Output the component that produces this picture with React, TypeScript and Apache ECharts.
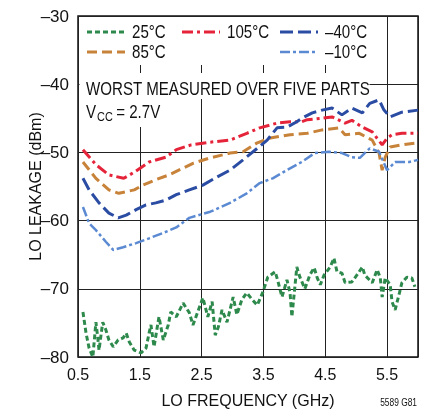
import React, { useEffect, useRef } from "react";
import * as echarts from "echarts";

const FONT = "'Liberation Sans', Arial, sans-serif";
const SX = 0.84;

const xTicks = [0.5, 1.5, 2.5, 3.5, 4.5, 5.5];
const yTicks = [-80, -70, -60, -50, -40, -30];
const legendNames = ["25°C", "85°C", "105°C", "–40°C", "–10°C"];

const s105: [number, number][] = [
  [0.58, -49.6], [0.79, -51.8], [1.0, -53.3], [1.24, -53.8], [1.41, -52.9], [1.65, -51.4],
  [1.92, -50.7], [2.09, -49.6], [2.33, -48.9], [2.64, -48.5], [2.96, -48.2], [3.23, -47.2],
  [3.44, -46.4], [3.72, -45.7], [3.93, -45.5], [4.12, -45.5], [4.21, -45.2], [4.45, -45.0],
  [4.61, -44.8], [4.82, -45.7], [4.93, -45.3], [5.1, -46.3], [5.26, -47.0], [5.42, -48.9],
  [5.5, -47.9], [5.58, -47.4], [5.74, -47.2], [6.0, -47.2],
];

const s85: [number, number][] = [
  [0.58, -51.4], [0.79, -53.8], [1.0, -55.5], [1.16, -56.0], [1.41, -55.5], [1.55, -54.8],
  [1.76, -54.0], [1.97, -53.3], [2.2, -52.3], [2.36, -51.6], [2.64, -50.8], [2.96, -50.1],
  [3.17, -49.9], [3.4, -48.6], [3.61, -47.9], [3.93, -47.4], [4.21, -47.2], [4.45, -46.7],
  [4.72, -46.4], [4.82, -47.4], [5.05, -47.2], [5.26, -48.2], [5.37, -50.1], [5.42, -52.6],
  [5.47, -50.7], [5.55, -49.2], [5.74, -48.9], [6.0, -48.6],
];

const sM40: [number, number][] = [
  [0.58, -53.8], [0.68, -55.5], [0.84, -57.4], [1.0, -58.9], [1.15, -59.6], [1.28, -59.2],
  [1.44, -58.4], [1.6, -57.7], [1.76, -57.4], [1.92, -57.0], [2.09, -56.2], [2.3, -55.5],
  [2.52, -54.8], [2.75, -53.6], [2.96, -52.6], [3.17, -51.1], [3.4, -49.4], [3.56, -48.2],
  [3.72, -46.4], [3.88, -46.3], [4.04, -45.5], [4.12, -45.0], [4.29, -44.2], [4.45, -43.8],
  [4.61, -43.5], [4.77, -44.5], [4.93, -43.5], [5.1, -44.2], [5.22, -42.8], [5.37, -42.3],
  [5.45, -43.8], [5.55, -44.8], [5.74, -44.1], [6.0, -43.8],
];

const sM10: [number, number][] = [
  [0.58, -58.0], [0.68, -60.4], [0.79, -61.4], [0.95, -63.1], [1.07, -64.3], [1.23, -63.9],
  [1.44, -63.3], [1.65, -62.6], [1.88, -61.8], [2.09, -61.0], [2.3, -59.6], [2.64, -58.7],
  [2.96, -57.4], [3.23, -56.0], [3.44, -54.5], [3.65, -53.8], [3.88, -52.6], [4.12, -51.4],
  [4.33, -50.1], [4.56, -49.9], [4.77, -50.1], [4.93, -50.7], [5.06, -50.8], [5.22, -49.4],
  [5.37, -49.9], [5.5, -52.6], [5.63, -51.4], [5.86, -51.4], [6.0, -51.1],
];

const s25: [number, number][] = [
  [0.58, -73.4], [0.63, -76.5], [0.68, -78.7], [0.74, -80.0], [0.79, -74.9], [0.82, -77.2],
  [0.84, -79.0], [0.9, -74.9], [0.95, -76.0], [1.0, -77.5], [1.07, -78.5], [1.15, -77.5],
  [1.23, -77.2], [1.28, -76.5], [1.33, -77.8], [1.41, -79.0], [1.52, -79.4], [1.6, -78.7],
  [1.65, -76.5], [1.68, -75.3], [1.73, -78.5], [1.81, -74.1], [1.88, -77.5], [1.96, -75.3],
  [2.0, -73.4], [2.09, -74.1], [2.2, -72.1], [2.3, -73.5], [2.36, -75.3], [2.52, -71.3],
  [2.6, -74.1], [2.67, -71.9], [2.72, -76.8], [2.77, -75.6], [2.83, -73.1], [2.91, -74.9],
  [3.01, -71.2], [3.07, -73.8], [3.15, -71.6], [3.23, -70.6], [3.32, -71.6], [3.4, -72.4],
  [3.49, -70.5], [3.57, -68.3], [3.69, -67.5], [3.74, -69.1], [3.8, -71.2], [3.88, -68.7],
  [3.93, -70.6], [3.96, -74.1], [4.04, -66.8], [4.09, -68.3], [4.17, -70.0], [4.25, -68.0],
  [4.32, -66.9], [4.37, -68.4], [4.42, -69.4], [4.48, -68.0], [4.58, -66.8], [4.64, -65.5],
  [4.69, -67.5], [4.77, -67.7], [4.82, -69.1], [4.93, -69.0], [5.01, -68.0], [5.1, -66.8],
  [5.14, -68.0], [5.26, -69.1], [5.34, -67.2], [5.39, -68.4], [5.42, -71.2], [5.47, -68.4],
  [5.55, -69.4], [5.58, -71.9], [5.63, -73.1], [5.7, -70.6], [5.74, -69.1], [5.82, -68.3],
  [5.9, -68.4], [5.95, -69.7],
];

const C25 = "#2e8a4c";
const C85 = "#c8833a";
const C105 = "#e5243a";
const CM40 = "#2b4ca3";
const CM10 = "#5b8ad2";

const styles = [
  { name: legendNames[0], data: s25, color: C25, dash: [5, 3], width: 3 },
  { name: legendNames[1], data: s85, color: C85, dash: [10, 5], width: 3 },
  { name: legendNames[2], data: s105, color: C105, dash: [11, 4, 3, 4], width: 3 },
  { name: legendNames[3], data: sM40, color: CM40, dash: [13, 5], width: 3 },
  { name: legendNames[4], data: sM10, color: CM10, dash: [10, 3, 3, 3], width: 2.5 },
];

function txt(x: number, y: number, text: string, size: number, extra: any = {}) {
  return {
    type: "text", z: 5, x, y, scaleX: SX,
    style: { text, font: `${size}px ${FONT}`, fill: "#111", verticalAlign: "middle", ...extra },
  };
}

function legendItem(x: number, y: number, s: any) {
  return [
    {
      type: "line", z: 5,
      shape: { x1: x, y1: y, x2: x + 38, y2: y },
      style: { stroke: s.color, lineWidth: s.width, lineDash: s.dash },
    },
    txt(x + 45, y, s.name, 18),
  ];
}

export default function App() {
  const ref = useRef<HTMLDivElement>(null);
  useEffect(() => {
    if (!ref.current) return;
    const chart = echarts.init(ref.current, undefined, { renderer: "svg" });
    const minus = (v: number) => (v < 0 ? "–" + Math.abs(v) : String(v));
    chart.setOption({
      animation: false,
      grid: {
        left: 78, right: 9, top: 16, bottom: 52, show: true, borderColor: "#111", borderWidth: 1.5,
        backgroundColor: "#fff", containLabel: false, outerBoundsMode: "none",
      },
      xAxis: {
        type: "value", min: 0.5, max: 6, interval: 1,
        name: "LO FREQUENCY (GHz)", nameLocation: "middle", nameGap: 35, nameMoveOverlap: false,
        nameTextStyle: { fontFamily: FONT, fontSize: 16, color: "#111" },
        axisLine: { show: false }, axisTick: { show: false },
        axisLabel: {
          fontFamily: FONT, fontSize: 16, color: "#111", margin: 9,
          formatter: (v: number) => (xTicks.some((t) => Math.abs(t - v) < 1e-9) ? v.toFixed(1) : ""),
        },
        splitLine: { show: true, lineStyle: { color: "#222", width: 1 } },
      },
      yAxis: {
        type: "value", min: yTicks[0], max: yTicks[yTicks.length - 1], interval: 10,
        name: "LO LEAKAGE (dBm)", nameLocation: "middle", nameGap: 35, nameMoveOverlap: false,
        nameTextStyle: { fontFamily: FONT, fontSize: 16, color: "#111" },
        axisLine: { show: false }, axisTick: { show: false },
        axisLabel: { fontFamily: FONT, fontSize: 17, color: "#111", margin: 9, formatter: minus },
        splitLine: { show: true, lineStyle: { color: "#222", width: 1 } },
      },
      series: styles.map((s) => ({
        type: "line", name: s.name, data: s.data, showSymbol: false, symbol: "none", z: 3,
        lineStyle: { color: s.color, width: s.width, type: s.dash, cap: "butt" },
      })),
      graphic: [
        { type: "rect", z: 1, shape: { x: 79.5, y: 17, width: 292, height: 48 }, style: { fill: "#fff" } },
        { type: "rect", z: 1, shape: { x: 79.5, y: 73, width: 290, height: 26 }, style: { fill: "#fff" } },
        { type: "rect", z: 1, shape: { x: 79.5, y: 99, width: 92, height: 28 }, style: { fill: "#fff" } },
        ...legendItem(87, 32, styles[0]),
        ...legendItem(182, 32, styles[2]),
        ...legendItem(280, 32, styles[3]),
        ...legendItem(87, 52, styles[1]),
        ...legendItem(280, 52, styles[4]),
        txt(86, 89, "WORST MEASURED OVER FIVE PARTS", 18),
        txt(86, 112, "V", 18),
        txt(97, 117, "CC", 13),
        txt(112, 112, " = 2.7V", 18),
        txt(417, 403, "5589 G81", 10, { align: "right" }),
      ],
    });
    return () => chart.dispose();
  }, []);
  return <div ref={ref} style={{ position: "fixed", left: 0, top: 0, width: 427, height: 409 }} />;
}
